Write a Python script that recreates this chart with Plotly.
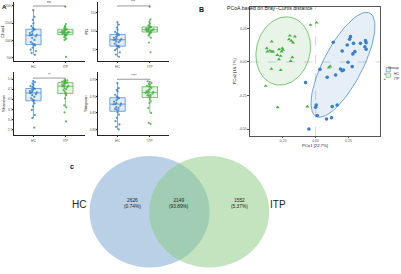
import numpy as np
import plotly.graph_objects as go

W, H = 401, 274
FONT = "Liberation Sans, Arial, sans-serif"

groups = ["HC", "ITP"]
col = {"HC": "#3b7fc2", "ITP": "#4cad49"}
fill = {"HC": "rgba(59,127,194,0.15)", "ITP": "rgba(76,173,73,0.15)"}

# ---------------- Panel A data (alpha diversity) ----------------
chao1_hc = [1880, 1690, 1600, 1500, 1420, 1370, 1340, 1320, 1300, 1260, 1220, 1190, 1170, 1160,
            1150, 1120, 1080, 1020, 960, 920, 890, 880, 860, 800, 740, 700, 650, 590]
chao1_itp = [1980, 1480, 1420, 1390, 1360, 1345, 1335, 1320, 1300, 1290, 1275, 1260, 1250, 1245,
             1240, 1230, 1220, 1210, 1200, 1190, 1175, 1165, 1160, 1140, 1100, 1060, 1020, 530]
pd_hc = [125, 118, 110, 104, 98, 94, 92, 90, 88, 85, 82, 80, 78, 77, 76, 74, 72, 70, 66, 62,
         60, 58, 56, 52, 48, 42, 36, 30]
pd_itp = [167, 132, 125, 120, 116, 114, 112, 111, 110, 109, 108, 107, 105, 104, 104, 103, 102,
          101, 100, 99, 98, 97, 95, 92, 88, 82, 69, 42]
shannon_hc = [4.90, 4.85, 4.78, 4.70, 4.65, 4.60, 4.55, 4.52, 4.48, 4.45, 4.40, 4.36, 4.34, 4.33,
              4.30, 4.25, 4.20, 4.12, 4.05, 3.98, 3.95, 3.90, 3.80, 3.65, 3.47, 3.22, 3.07, 2.60]
shannon_itp = [4.96, 4.94, 4.92, 4.90, 4.88, 4.85, 4.83, 4.82, 4.80, 4.76, 4.72, 4.70, 4.66, 4.65,
               4.64, 4.60, 4.55, 4.50, 4.45, 4.38, 4.30, 4.28, 4.20, 4.05, 3.70, 3.60, 3.35, 2.90]
simpson_hc = [0.940, 0.925, 0.920, 0.915, 0.905, 0.900, 0.897, 0.895, 0.892, 0.888, 0.884, 0.880,
              0.878, 0.877, 0.876, 0.872, 0.868, 0.865, 0.862, 0.860, 0.858, 0.852, 0.845, 0.835,
              0.825, 0.815, 0.808, 0.800]
simpson_itp = [0.946, 0.944, 0.941, 0.938, 0.935, 0.932, 0.930, 0.929, 0.926, 0.922, 0.919, 0.916,
               0.914, 0.913, 0.912, 0.910, 0.908, 0.906, 0.904, 0.903, 0.901, 0.898, 0.892, 0.885,
               0.880, 0.865, 0.850, 0.820, 0.817]

metric_names = ["Chao1", "PD", "Shannon", "Simpson"]
signif = ["ns", "***", "**", "****"]
bracket_y = [2000, 169, 5.05, 0.952]
y_ranges = [[413, 2115], [18.4, 179.7], [2.23, 5.35], [0.783, 0.974]]
y_ticks = [[500, 1000, 1500, 2000], [50, 100, 150], [2.5, 3.0, 3.5, 4.0, 4.5, 5.0],
           [0.80, 0.85, 0.90, 0.95]]
y_ticktext = [["500", "1000", "1500", "2000"], ["50", "100", "150"],
              ["2.5", "3.0", "3.5", "4.0", "4.5", "5.0"], ["0.80", "0.85", "0.90", "0.95"]]
metric_data = [(chao1_hc, chao1_itp), (pd_hc, pd_itp), (shannon_hc, shannon_itp),
               (simpson_hc, simpson_itp)]

# ---------------- Panel B data (PCoA) ----------------
itp_pc1 = [-0.038, 0.008, -0.333, -0.195, -0.157, -0.202, -0.184, -0.172, -0.371, -0.366, -0.348,
           -0.333, -0.323, -0.278, -0.253, -0.248, -0.258, -0.290, -0.265, -0.278, -0.177, -0.189,
           -0.336, -0.265, -0.379, -0.288, -0.063, 0.101, 0.111]
itp_pc2 = [0.276, 0.293, 0.152, 0.196, 0.189, 0.169, 0.157, 0.144, 0.102, 0.077, 0.084, 0.077,
           0.077, 0.095, 0.102, 0.090, 0.077, 0.052, 0.045, 0.020, 0.035, 0.007, -0.052, -0.060,
           -0.179, -0.338, -0.333, -0.042, -0.032]
hc_pc1 = [0.265, 0.258, 0.134, 0.240, 0.288, 0.341, 0.379, 0.384, 0.374, 0.384, 0.202, 0.298,
          0.283, 0.247, 0.278, 0.033, 0.189, 0.202, 0.212, 0.152, 0.088, -0.076, 0.005, 0.000,
          0.126, 0.164, 0.013, 0.083, 0.121, -0.051]
hc_pc2 = [0.189, 0.169, 0.147, 0.127, 0.139, 0.139, 0.159, 0.144, 0.114, 0.095, 0.082, 0.077,
          0.060, -0.002, -0.035, -0.055, -0.052, -0.065, -0.060, -0.097, -0.114, -0.154, -0.321,
          -0.338, -0.333, -0.321, -0.400, -0.425, -0.416, -0.500]
pc_ticks = [-0.5, -0.25, 0.0, 0.25]
pc_ticktext = ["-0.50", "-0.25", "0.00", "0.25"]
# 95% confidence ellipses: centre x, centre y, semi-major, semi-minor,
# tilt of the major axis from vertical (degrees, towards +x)
ellipse_hc = [0.208, -0.021, 0.436, 0.148, 28]
ellipse_itp = [-0.246, 0.082, 0.258, 0.203, 15]

# ---------------- Panel C data (Venn) ----------------
venn_sets = ["HC", "ITP"]
venn_counts = [2626, 2149, 1552]
venn_pcts = ["0.74%", "93.89%", "5.37%"]


def px(x):
    return x / W


def py(y):
    return 1 - y / H


def ellipse_path(params, segments=90):
    cx, cy, a, b, tilt = params
    t = np.linspace(0, 2 * np.pi, segments + 1)
    th = np.deg2rad(tilt)
    ux, uy = np.sin(th), np.cos(th)       # major axis direction
    vx, vy = np.cos(th), -np.sin(th)      # minor axis direction
    ex = cx + a * np.cos(t) * ux + b * np.sin(t) * vx
    ey = cy + a * np.cos(t) * uy + b * np.sin(t) * vy
    return ex, ey


fig = go.Figure()

dom = [
    ((12.3, 83), (2, 61)),
    ((96.7, 168), (2, 61)),
    ((12.3, 83), (72, 135)),
    ((96.7, 168), (72, 135)),
]

layout = dict(
    width=W, height=H, margin=dict(l=0, r=0, t=0, b=0),
    paper_bgcolor="white", plot_bgcolor="white",
    font=dict(family=FONT, color="#333333", size=4),
    showlegend=False, boxgap=0.32,
)

annotations = []
shapes = []

for i, name in enumerate(metric_names):
    k = "" if i == 0 else str(i + 1)
    xa, ya = "x" + k, "y" + k
    (x0, x1), (y0, y1) = dom[i]
    layout["xaxis" + k] = dict(
        domain=[px(x0), px(x1)], anchor=ya, type="category",
        categoryorder="array", categoryarray=groups, range=[-0.6, 1.6],
        showline=True, linecolor="#222", linewidth=0.6, ticks="outside", ticklen=1.5,
        tickwidth=0.5, tickcolor="#333", tickfont=dict(size=3.5, color="#555"),
        showgrid=False, zeroline=False, fixedrange=True,
    )
    layout["yaxis" + k] = dict(
        domain=[py(y1), py(y0)], anchor=xa, range=y_ranges[i],
        tickvals=y_ticks[i], ticktext=y_ticktext[i],
        showline=True, linecolor="#222", linewidth=0.6, ticks="outside", ticklen=1.5,
        tickwidth=0.5, tickcolor="#333", tickfont=dict(size=3.3, color="#555"),
        ticklabelstandoff=-1,
        showgrid=False, zeroline=False, fixedrange=True,
        title=dict(text=name, font=dict(size=4.2, color="#222"), standoff=2),
    )
    for g, vals in zip(groups, metric_data[i]):
        fig.add_trace(go.Box(
            x=[g] * len(vals), y=vals, name=g, xaxis=xa, yaxis=ya,
            boxpoints="all", jitter=0.55, pointpos=0,
            marker=dict(size=2.2, color=col[g], opacity=0.85),
            line=dict(color=col[g], width=0.7), fillcolor=fill[g],
            whiskerwidth=0, showlegend=False, hoverinfo="y",
        ))
    b = bracket_y[i]
    span = y_ranges[i][1] - y_ranges[i][0]
    tick = span * 0.012
    fig.add_trace(go.Scatter(
        x=[groups[0], groups[0], groups[1], groups[1]], y=[b - tick, b, b, b - tick],
        xaxis=xa, yaxis=ya, mode="lines", line=dict(color="#555", width=0.6),
        showlegend=False, hoverinfo="skip",
    ))
    annotations.append(dict(
        x=0.5, y=b, xref=xa, yref=ya, text=signif[i], showarrow=False,
        yanchor="bottom", yshift=-0.5, font=dict(size=3.6, color="#333"),
    ))

# ---------------- Panel B ----------------
layout["xaxis5"] = dict(
    domain=[px(249), px(380)], anchor="y5", range=[-0.5, 0.49],
    tickvals=[-0.25, 0.0, 0.25], ticktext=["-0.25", "0.00", "0.25"],
    showline=True, mirror=True, linecolor="#555", linewidth=0.6,
    ticks="outside", ticklen=1.5, tickwidth=0.5, tickcolor="#555",
    tickfont=dict(size=3.5, color="#555"), showgrid=False, zeroline=False, fixedrange=True,
    title=dict(text="PCo1 [22.7%]", font=dict(size=4.2, color="#222"), standoff=1),
)
layout["yaxis5"] = dict(
    domain=[py(135.7), py(7)], anchor="x5", range=[-0.55, 0.41],
    tickvals=pc_ticks, ticktext=pc_ticktext,
    showline=True, mirror=True, linecolor="#555", linewidth=0.6,
    ticks="outside", ticklen=1.5, tickwidth=0.5, tickcolor="#555",
    tickfont=dict(size=3.5, color="#555"), showgrid=False, zeroline=False, fixedrange=True,
    title=dict(text="PCo2 [16.7%]", font=dict(size=4.2, color="#222"), standoff=2),
)
shapes.append(dict(type="line", xref="x5", yref="y5 domain", x0=0, x1=0, y0=0, y1=1,
                   line=dict(color="#bbbbbb", width=0.6, dash="dash"), layer="below"))
shapes.append(dict(type="line", xref="x5 domain", yref="y5", x0=0, x1=1, y0=0, y1=0,
                   line=dict(color="#bbbbbb", width=0.6, dash="dash"), layer="below"))

pts = {"HC": (hc_pc1, hc_pc2, "circle", ellipse_hc),
       "ITP": (itp_pc1, itp_pc2, "triangle-up", ellipse_itp)}
for g in groups:
    xs, ys, sym, ep = pts[g]
    ex, ey = ellipse_path(ep)
    fig.add_trace(go.Scatter(
        x=ex, y=ey, xaxis="x5", yaxis="y5", mode="lines", fill="toself",
        fillcolor=fill[g].replace("0.15", "0.13"), line=dict(color=col[g], width=0.7),
        showlegend=False, hoverinfo="skip",
    ))
for g in groups:
    xs, ys, sym, ep = pts[g]
    fig.add_trace(go.Scatter(
        x=xs, y=ys, xaxis="x5", yaxis="y5", mode="markers",
        marker=dict(size=3.6, color=col[g], symbol=sym), name=g, showlegend=False,
    ))

# manual legend
annotations.append(dict(x=px(385.5), y=py(64), xref="paper", yref="paper", text="Group",
                        showarrow=False, xanchor="left", font=dict(size=3.8, color="#222")))
for j, g in enumerate(groups):
    cy = 69.7 + j * 5.6
    shapes.append(dict(type="rect", xref="paper", yref="paper", x0=px(386), x1=px(390.3),
                       y0=py(cy + 2.1), y1=py(cy - 2.1), fillcolor=fill[g],
                       line=dict(color=col[g], width=0.5)))
    annotations.append(dict(x=px(388.15), y=py(cy), xref="paper", yref="paper",
                            text="●" if g == "HC" else "▲", showarrow=False,
                            font=dict(size=3.2, color=col[g])))
    annotations.append(dict(x=px(391.5), y=py(cy), xref="paper", yref="paper", text=g,
                            showarrow=False, xanchor="left", font=dict(size=3.4, color="#222")))

annotations.append(dict(x=px(315), y=py(3.2), xref="paper", yref="paper",
                        text="PCoA based on Bray\u2212Curtis distance", showarrow=False,
                        font=dict(size=5.2, color="#222")))
annotations.append(dict(x=px(2.2), y=py(2.3), xref="paper", yref="paper", text="<b>A</b>",
                        showarrow=False, xanchor="center", font=dict(size=6, color="#111")))
annotations.append(dict(x=px(201), y=py(3.5), xref="paper", yref="paper", text="<b>B</b>",
                        showarrow=False, xanchor="center", font=dict(size=7, color="#111")))

# ---------------- Panel C (Venn) ----------------
vcx = [148.3, 208.3]
vcy = 211.7
rx, ry = 60.3, 55.8
venn_fill = ["rgba(115,161,205,0.5)", "rgba(137,201,129,0.5)"]
for cx, fc in zip(vcx, venn_fill):
    shapes.append(dict(type="circle", xref="paper", yref="paper",
                       x0=px(cx - rx), x1=px(cx + rx), y0=py(vcy + ry), y1=py(vcy - ry),
                       fillcolor=fc, line=dict(width=0), layer="below"))
region_x = [121, 178.3, 238.3]
for rxp, cnt, pct in zip(region_x, venn_counts, venn_pcts):
    annotations.append(dict(x=px(rxp), y=py(vcy - 0.5), xref="paper", yref="paper",
                            text=f"{cnt}<br>({pct})", showarrow=False,
                            font=dict(size=4.8, color="#222")))
annotations.append(dict(x=px(68.5), y=py(vcy), xref="paper", yref="paper", text=venn_sets[0],
                        showarrow=False, font=dict(size=10, color="#222")))
annotations.append(dict(x=px(287.5), y=py(vcy), xref="paper", yref="paper", text=venn_sets[1],
                        showarrow=False, font=dict(size=10, color="#222")))
annotations.append(dict(x=px(66.7), y=py(166.5), xref="paper", yref="paper", text="<b>c</b>",
                        showarrow=False, font=dict(size=7, color="#111")))

layout["annotations"] = annotations
layout["shapes"] = shapes
fig.update_layout(**layout)
fig.write_html("out.html", config={"displayModeBar": False},
               post_script="document.body.style.margin='0';document.body.style.padding='0';")
